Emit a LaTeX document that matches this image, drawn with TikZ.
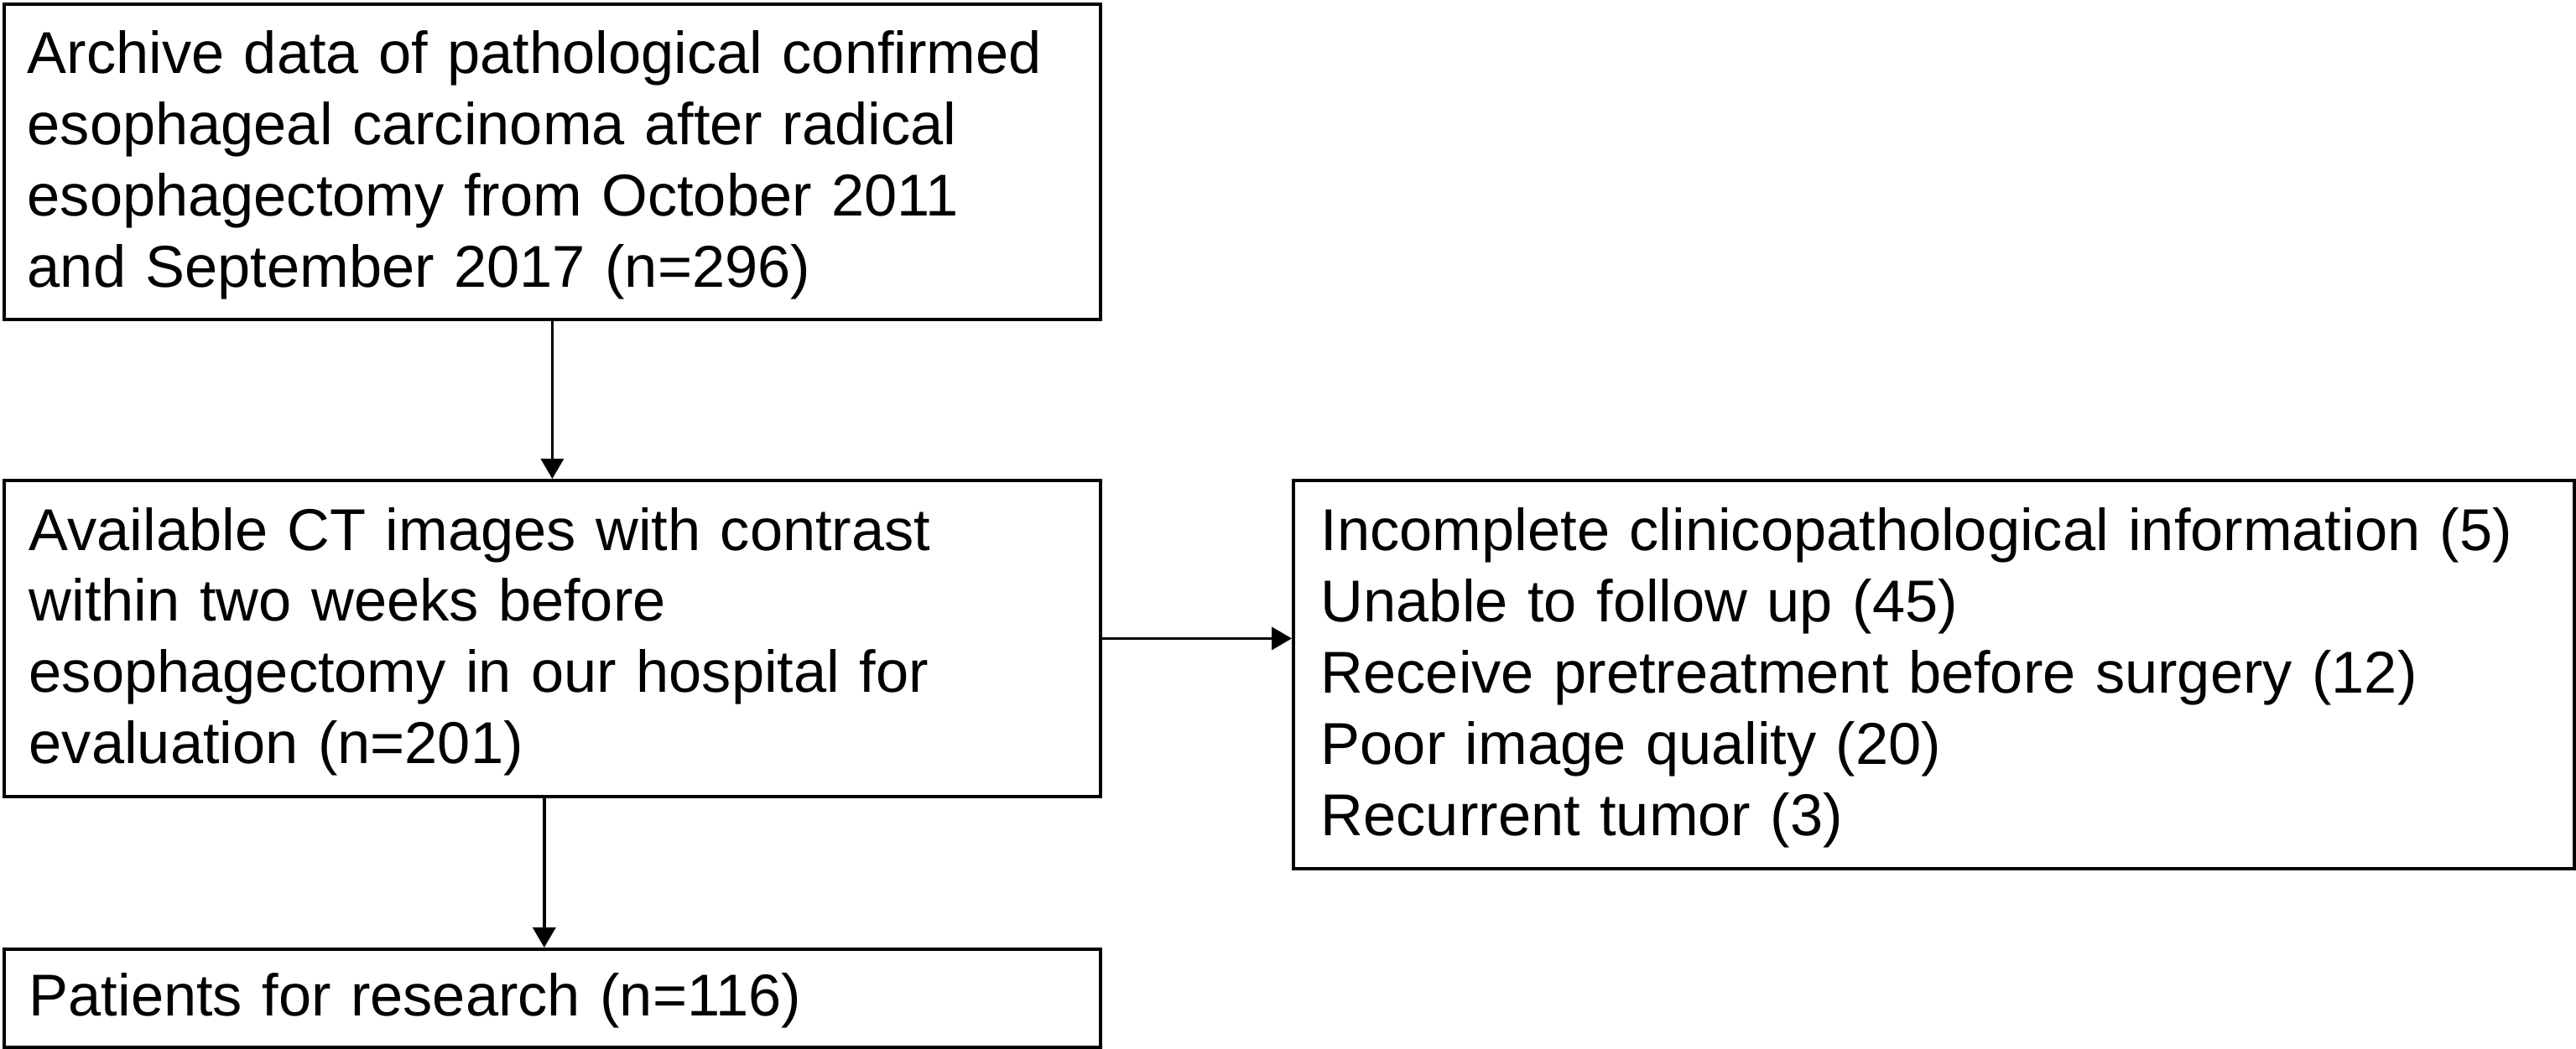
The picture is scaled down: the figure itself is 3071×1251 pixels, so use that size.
\documentclass[tikz,border=0pt]{standalone}
\usepackage{fontspec}
\setmainfont{Liberation Sans}
\usetikzlibrary{arrows.meta}
\begin{document}
\begin{tikzpicture}[x=0.25pt,y=-0.25pt,
  boxline/.style={draw=black,line width=0.95pt,inner sep=0pt,anchor=north west,rectangle},
  txt/.style={inner sep=0pt,anchor=base west,align=left,text width=500pt,
    font=\fontsize{17.6}{21.2}\selectfont},
  arr/.style={line width=0.95pt,-{Triangle[width=6.75pt,length=6pt]}}]
\useasboundingbox (0,0) rectangle (3071,1251);
% boxes
\node[boxline,minimum width=326.75pt,minimum height=94pt] (b1) at (3,3) {};
\node[boxline,minimum width=326.75pt,minimum height=94.25pt] (b2) at (3,571) {};
\node[boxline,minimum width=381.75pt,minimum height=115.75pt] (b3) at (1540,571) {};
\node[boxline,minimum width=326.75pt,minimum height=29.25pt] (b4) at (3,1130) {};
% texts
\node[txt] (t1) at (32,88) {Archive data of pathological confirmed\\esophageal carcinoma after radical\\esophagectomy from October 2011\\and September 2017 (n=296)};
\node[txt] (t2) at (34,656) {Available CT images with contrast\\within two weeks before\\esophagectomy in our hospital for\\evaluation (n=201)};
\node[txt] (t3) at (1574,657) {Incomplete clinicopathological information (5)\\Unable to follow up (45)\\Receive pretreatment before surgery (12)\\Poor image quality (20)\\Recurrent tumor (3)};
\node[txt] (t4) at (34,1211) {Patients for research (n=116)};
% arrows
\draw[arr] (b1.south) -- (b2.north);
\draw[arr] (b2.east) -- (b2.east -| b3.west);
\draw[arr] ([xshift=-2.4pt]b2.south) -- ([xshift=-2.4pt]b4.north);
\end{tikzpicture}
\end{document}
